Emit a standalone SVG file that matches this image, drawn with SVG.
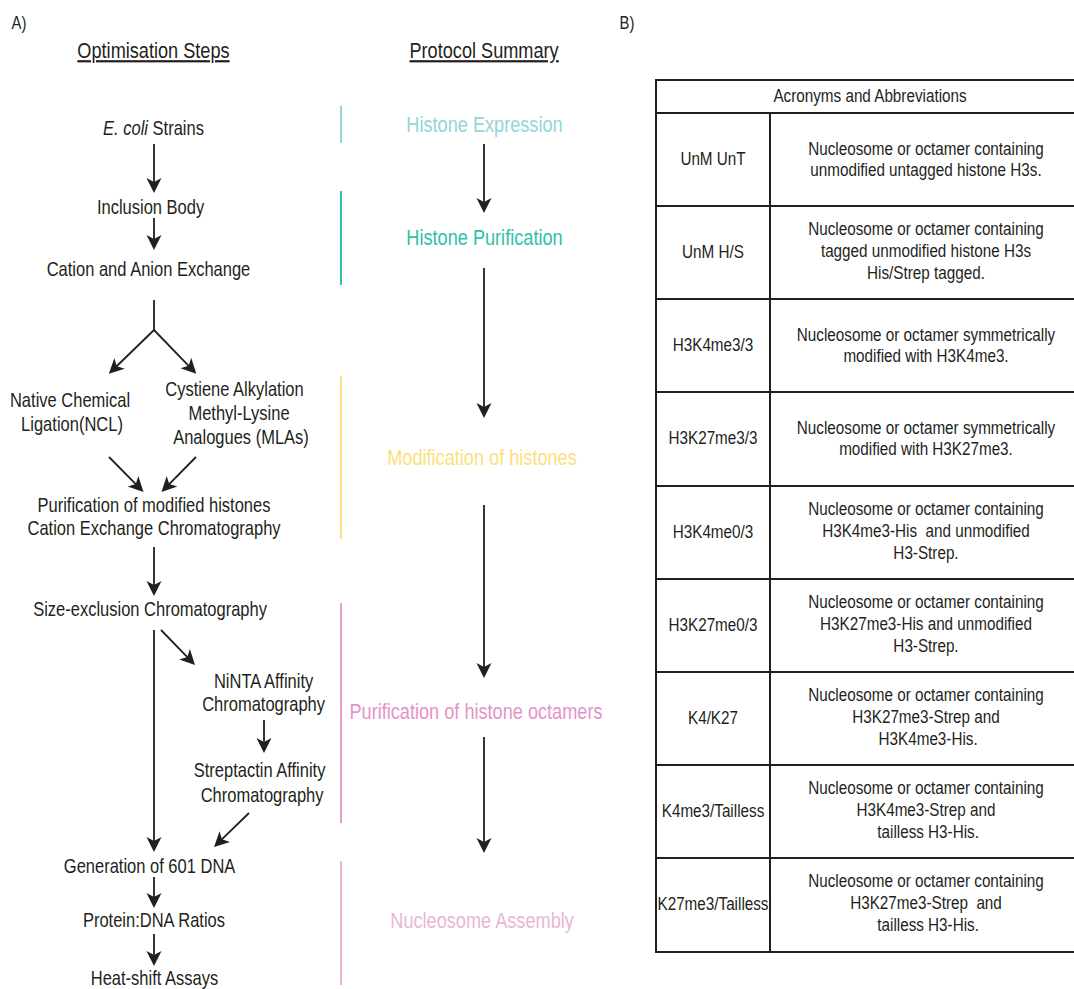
<svg xmlns="http://www.w3.org/2000/svg" width="1074" height="989" viewBox="0 0 1074 989">
<style>
text{font-family:"Liberation Sans Narrow","Arial Narrow","Liberation Sans",Arial,sans-serif;fill:#231f20;transform-box:fill-box;transform-origin:center;transform:scaleX(.825)}
.b{font-size:20px;text-anchor:middle}
.h{font-size:22px;text-anchor:middle;text-decoration:underline}
.p{font-size:22px;text-anchor:middle}
.t{font-size:18.5px;text-anchor:middle;white-space:pre}
.lbl{font-size:18px}
.c{stroke:#231f20;stroke-width:1.8;fill:none}
.ca{stroke:#231f20;stroke-width:1.8;fill:none;marker-end:url(#ah)}
.tb{stroke:#231f20;stroke-width:2;fill:none}
</style>
<defs>
<marker id="ah" markerUnits="userSpaceOnUse" markerWidth="16" markerHeight="16" refX="11" refY="0" viewBox="0 -8 16 16" orient="auto" overflow="visible">
<path d="M15,0 L0,-7.5 L4,0 L0,7.5 Z" fill="#231f20"/>
</marker>
</defs>
<rect width="1074" height="989" fill="#ffffff"/>
<text class="lbl" x="10" y="29">A)</text>
<text class="lbl" x="618" y="29">B)</text>
<text class="h" x="153.5" y="58">Optimisation Steps</text>
<text class="h" x="484" y="58">Protocol Summary</text>

<g id="side-bars">
<line x1="341" y1="106" x2="341" y2="143" stroke="#93d5d8" stroke-width="2"/>
<line x1="341" y1="191" x2="341" y2="285" stroke="#2fbfaa" stroke-width="2"/>
<line x1="341" y1="376" x2="341" y2="539" stroke="#fbe07e" stroke-width="2"/>
<line x1="341" y1="603" x2="341" y2="823" stroke="#e69ccb" stroke-width="2"/>
<line x1="341" y1="861" x2="341" y2="985" stroke="#ebb4d8" stroke-width="2"/>
</g>

<g id="connectors">
<line class="ca" x1="154" y1="144" x2="154" y2="189"/>
<line class="ca" x1="154" y1="218" x2="154" y2="246"/>
<line class="c" x1="154" y1="300" x2="154" y2="330"/>
<line class="ca" x1="154" y1="330" x2="111.7" y2="371"/>
<line class="ca" x1="154" y1="330" x2="193.5" y2="370.9"/>
<line class="ca" x1="109" y1="457" x2="140.7" y2="489.1"/>
<line class="ca" x1="196" y1="457" x2="164.3" y2="489.1"/>
<line class="ca" x1="154" y1="547" x2="154" y2="592"/>
<line class="ca" x1="154" y1="630" x2="154" y2="848"/>
<line class="ca" x1="161" y1="630" x2="192.2" y2="662.1"/>
<line class="ca" x1="264" y1="720" x2="264" y2="749"/>
<line class="ca" x1="249" y1="813" x2="216.9" y2="844.2"/>
<line class="ca" x1="154" y1="877" x2="154" y2="904"/>
<line class="ca" x1="154" y1="934" x2="154" y2="962"/>
<line class="ca" x1="484" y1="144" x2="484" y2="209"/>
<line class="ca" x1="484" y1="268" x2="484" y2="414"/>
<line class="ca" x1="484" y1="505" x2="484" y2="674"/>
<line class="ca" x1="484" y1="737" x2="484" y2="849"/>
</g>

<g id="n-ecoli"><text class="b" x="153.5" y="135"><tspan font-style="italic">E. coli</tspan> Strains</text></g>
<g id="n-inclusion"><text class="b" x="150.5" y="214">Inclusion Body</text></g>
<g id="n-exchange"><text class="b" x="148.5" y="276">Cation and Anion Exchange</text></g>
<g id="n-ncl"><text class="b" x="70" y="407">Native Chemical</text><text class="b" x="72" y="431">Ligation(NCL)</text></g>
<g id="n-mla"><text class="b" x="234.5" y="396">Cystiene Alkylation</text><text class="b" x="239" y="420">Methyl-Lysine</text><text class="b" x="241" y="444">Analogues (MLAs)</text></g>
<g id="n-purmod"><text class="b" x="154" y="512">Purification of modified histones</text><text class="b" x="154" y="535">Cation Exchange Chromatography</text></g>
<g id="n-sec"><text class="b" x="150" y="616">Size-exclusion Chromatography</text></g>
<g id="n-ninta"><text class="b" x="263.5" y="688">NiNTA Affinity</text><text class="b" x="263.5" y="711">Chromatography</text></g>
<g id="n-strep"><text class="b" x="259.5" y="777">Streptactin Affinity</text><text class="b" x="262" y="802">Chromatography</text></g>
<g id="n-601"><text class="b" x="149.5" y="873">Generation of 601 DNA</text></g>
<g id="n-ratio"><text class="b" x="154" y="927">Protein:DNA Ratios</text></g>
<g id="n-heat"><text class="b" x="154.5" y="985">Heat-shift Assays</text></g>

<g id="p-expression"><text class="p" x="484.5" y="132" style="fill:#93d5d8">Histone Expression</text></g>
<g id="p-purification"><text class="p" x="484.5" y="245" style="fill:#2fbfaa">Histone Purification</text></g>
<g id="p-modification"><text class="p" x="482" y="465" style="fill:#fbe07e">Modification of histones</text></g>
<g id="p-octamers"><text class="p" x="476" y="719" style="fill:#e493c8">Purification of histone octamers</text></g>
<g id="p-assembly"><text class="p" x="482" y="928" style="fill:#ebb4d8">Nucleosome Assembly</text></g>

<g id="table">
<rect class="tb" x="656" y="80" width="428" height="872"/>
<path class="tb" d="M656,113H1084M656,206H1084M656,299H1084M656,392H1084M656,486H1084M656,579H1084M656,672H1084M656,765H1084M656,858H1084M770,113V952"/>
<text class="t" x="870" y="102">Acronyms and Abbreviations</text>
<g id="r1"><text class="t" x="713" y="165">UnM UnT</text><text class="t" x="926" y="155">Nucleosome or octamer containing</text><text class="t" x="926" y="176">unmodified untagged histone H3s.</text></g>
<g id="r2"><text class="t" x="713" y="258">UnM H/S</text><text class="t" x="926" y="235">Nucleosome or octamer containing</text><text class="t" x="926" y="257">tagged unmodified histone H3s</text><text class="t" x="926" y="279">His/Strep tagged.</text></g>
<g id="r3"><text class="t" x="713" y="351">H3K4me3/3</text><text class="t" x="926" y="341">Nucleosome or octamer symmetrically</text><text class="t" x="926" y="362">modified with H3K4me3.</text></g>
<g id="r4"><text class="t" x="713" y="444.5">H3K27me3/3</text><text class="t" x="926" y="434.5">Nucleosome or octamer symmetrically</text><text class="t" x="926" y="455.5">modified with H3K27me3.</text></g>
<g id="r5"><text class="t" x="713" y="538">H3K4me0/3</text><text class="t" x="926" y="515">Nucleosome or octamer containing</text><text class="t" x="926" y="537">H3K4me3-His  and unmodified</text><text class="t" x="926" y="559">H3-Strep.</text></g>
<g id="r6"><text class="t" x="713" y="631">H3K27me0/3</text><text class="t" x="926" y="608">Nucleosome or octamer containing</text><text class="t" x="926" y="630">H3K27me3-His and unmodified</text><text class="t" x="926" y="652">H3-Strep.</text></g>
<g id="r7"><text class="t" x="713" y="724">K4/K27</text><text class="t" x="926" y="701">Nucleosome or octamer containing</text><text class="t" x="926" y="723">H3K27me3-Strep and</text><text class="t" x="926" y="745"> H3K4me3-His.</text></g>
<g id="r8"><text class="t" x="713" y="817">K4me3/Tailless</text><text class="t" x="926" y="794">Nucleosome or octamer containing</text><text class="t" x="926" y="816">H3K4me3-Strep and</text><text class="t" x="926" y="838"> tailless H3-His.</text></g>
<g id="r9"><text class="t" x="713" y="910.5">K27me3/Tailless</text><text class="t" x="926" y="887.5">Nucleosome or octamer containing</text><text class="t" x="926" y="909.5">H3K27me3-Strep  and</text><text class="t" x="926" y="931.5"> tailless H3-His.</text></g>
</g>
</svg>
